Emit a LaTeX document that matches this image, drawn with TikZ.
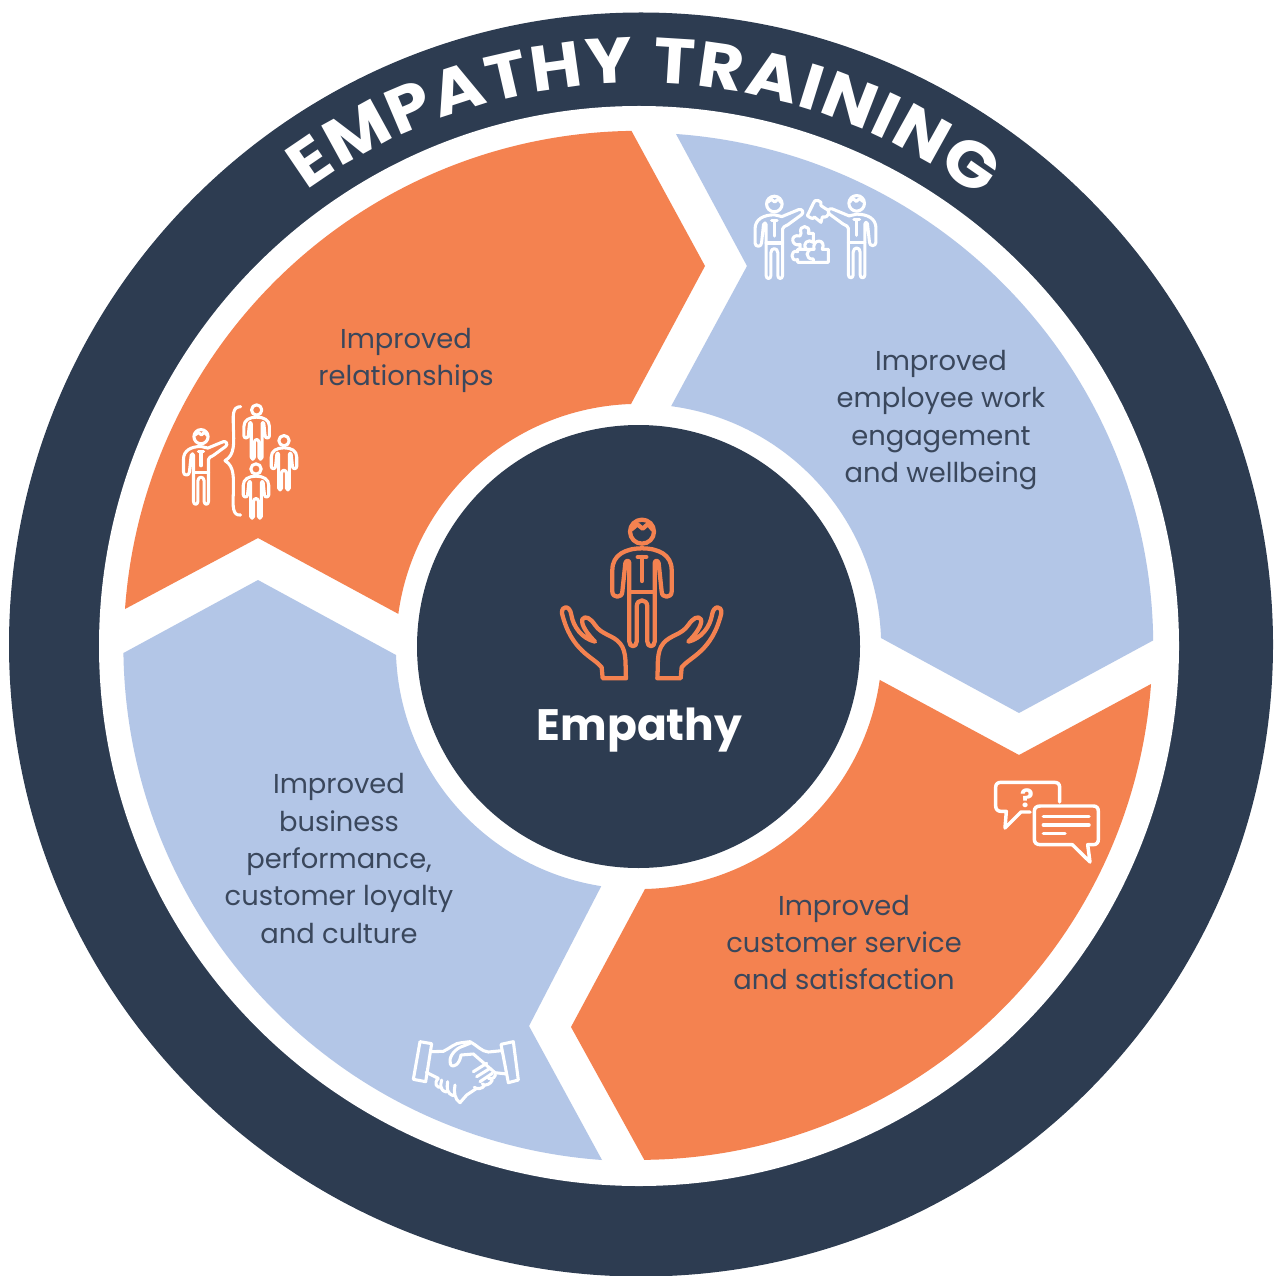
\documentclass[tikz,border=0pt]{standalone}
\usepackage{fontspec}
\usetikzlibrary{decorations.text}
\setmainfont{Poppins}
\newfontfamily\titlefont[FakeStretch=1.1]{Poppins}
\definecolor{navy}{HTML}{2D3C51}
\definecolor{accent}{HTML}{F48250}
\definecolor{pale}{HTML}{B3C6E7}
\definecolor{bodytext}{HTML}{3A475C}
\tikzset{
  segorange/.style={fill=accent,draw=none},
  segblue/.style={fill=pale,draw=none},
  label/.style={text=bodytext,align=center,font=\fontsize{20.5}{28.1}\selectfont},
  iconline/.style={color=white,line width=2.3pt,line join=round,line cap=round},
  pics/figbody/.style={code={
    \draw (0,0) circle[radius=36];
    \draw (-30,-8) -- (-14,-22) -- (2,-9) -- (18,-23) -- (32,-6);
    \draw (0,50) .. controls (50,50) and (89,70) .. (89,115) -- (89,180)
      .. controls (89,200) and (59,200) .. (59,180) -- (50,95)
      .. controls (48,85) and (38,85) .. (38,95) -- (38,330)
      .. controls (38,348) and (16,348) .. (16,330) -- (16,225)
      .. controls (16,200) and (-16,200) .. (-16,225) -- (-16,330)
      .. controls (-16,348) and (-38,348) .. (-38,330) -- (-38,95)
      .. controls (-38,85) and (-48,85) .. (-50,95) -- (-59,180)
      .. controls (-59,200) and (-89,200) .. (-89,180) -- (-89,115)
      .. controls (-89,70) and (-50,50) .. (0,50) -- cycle;
    \draw (-38,180) -- (38,180);
    \draw (-13,76) -- (13,76) (0,76) -- (0,148);
  }},
  pics/figplain/.style={code={
    \draw (0,0) circle[radius=36];
    \draw (0,50) .. controls (50,50) and (89,70) .. (89,115) -- (89,180)
      .. controls (89,200) and (59,200) .. (59,180) -- (50,95)
      .. controls (48,85) and (38,85) .. (38,95) -- (38,330)
      .. controls (38,348) and (16,348) .. (16,330) -- (16,225)
      .. controls (16,200) and (-16,200) .. (-16,225) -- (-16,330)
      .. controls (-16,348) and (-38,348) .. (-38,330) -- (-38,95)
      .. controls (-38,85) and (-48,85) .. (-50,95) -- (-59,180)
      .. controls (-59,200) and (-89,200) .. (-89,180) -- (-89,115)
      .. controls (-89,70) and (-50,50) .. (0,50) -- cycle;
  }},
  pics/figraised/.style={code={
    \draw (0,0) circle[radius=36];
    \draw (-30,-8) -- (-14,-22) -- (2,-9) -- (18,-23) -- (32,-6);
    \draw (0,50) -- (35,58) -- (112,26)
      .. controls (130,20) and (138,40) .. (125,50) -- (62,96)
      .. controls (50,104) and (38,104) .. (38,116) -- (38,330)
      .. controls (38,348) and (16,348) .. (16,330) -- (16,225)
      .. controls (16,200) and (-16,200) .. (-16,225) -- (-16,330)
      .. controls (-16,348) and (-38,348) .. (-38,330) -- (-38,95)
      .. controls (-38,85) and (-48,85) .. (-50,95) -- (-59,180)
      .. controls (-59,200) and (-89,200) .. (-89,180) -- (-89,115)
      .. controls (-89,70) and (-50,50) .. (0,50) -- cycle;
    \draw (-38,180) -- (38,180);
    \draw (-13,76) -- (13,76) (0,76) -- (0,148);
  }},
  pics/openhand/.style={code={
    \draw (158,505) -- (155,472) .. controls (130,440) and (64,425) .. (36,310)
      .. controls (34,285) and (60,285) .. (64,315)
      .. controls (70,350) and (95,385) .. (135,395)
      .. controls (115,375) and (92,345) .. (97,328)
      .. controls (105,315) and (122,325) .. (135,345)
      .. controls (155,375) and (190,375) .. (210,400)
      .. controls (232,425) and (225,470) .. (228,505) -- cycle;
  }}
}
\begin{document}
\begin{tikzpicture}[x=0.75pt,y=-0.75pt]
\useasboundingbox (0,0) rectangle (1273,1276);
\coordinate (c) at (639,646);
\fill[navy] (641,644.5) circle[radius=632];
\fill[white] (c) circle[radius=540];

% segments
\path[segorange] (125,609) arc[start angle=-175.9,end angle=-90.8,radius=515]
  -- (705,266) -- (631,404) arc[start angle=-91.9,end angle=-172.2,radius=243]
  -- (258,538) -- cycle;
\path[segblue] (676,134) arc[start angle=-85.9,end angle=-0.7,radius=514]
  -- (1019,713) -- (881,638) arc[start angle=-1.9,end angle=-82.4,radius=242]
  -- (747,266) -- cycle;
\path[segorange] (1151,684) arc[start angle=4.2,end angle=89.4,radius=513.5]
  -- (571,1027) -- (645,889) arc[start angle=88.6,end angle=8,radius=243]
  -- (1019,755) -- cycle;
\path[segblue] (602,1160) arc[start angle=94.1,end angle=179.2,radius=515.5]
  -- (258,580) -- (396,655) arc[start angle=177.9,end angle=98.9,radius=243]
  -- (529,1026) -- cycle;

% centre
\fill[navy] (638.5,646.5) circle[radius=221.5];
\node[text=white,font=\fontsize{33}{38}\selectfont\bfseries] (centre) at (639.5,730) {Empathy};

% title on the ring
\path[decorate,decoration={text along path,text align={fit to path},
   text={|\titlefont\fontsize{48}{52}\selectfont\bfseries\color{white}|EMPATHY TRAINING}}]
   (306.5,191) arc[start angle=-126.1,end angle=-52.6,radius=563];

% labels
\node[label] (l1) at (406,360.5) {Improved\\relationships};
\node[label] (l2) at (941,420) {Improved\\employee work\\engagement\\and wellbeing};
\node[label] (l3) at (339,858.5) {Improved\\business\\performance,\\customer loyalty\\and culture};
\node[label] (l4) at (844,942.5) {Improved\\customer service\\and satisfaction};

% central icon
\begin{scope}[shift={(550,510)},scale=1/3,color=accent,line width=3.2pt,line join=round,line cap=round]
  \pic[transform shape] at (276,65) {figbody};
  \pic[transform shape] {openhand};
  \begin{scope}[shift={(550,0)},xscale=-1]\pic[transform shape] {openhand};\end{scope}
\end{scope}

% icon: people
\begin{scope}[shift={(170,390)},scale=1/3,iconline]
  \pic[transform shape,scale=.59] at (93,140) {figraised};
  \pic[transform shape,scale=.43] at (260,60) {figplain};
  \pic[transform shape,scale=.43] at (342,152) {figplain};
  \pic[transform shape,scale=.43] at (258,237) {figplain};
  \draw (212,50) .. controls (185,50) and (190,80) .. (190,110)
    .. controls (192,160) and (195,195) .. (165,212)
    .. controls (195,230) and (190,265) .. (190,310)
    .. controls (188,350) and (188,378) .. (212,375);
\end{scope}

% icon: puzzle
\begin{scope}[shift={(745,185)},scale=1/3,iconline]
  \pic[transform shape,scale=.65] at (88,57) {figraised};
  \pic[transform shape,xscale=-.65,yscale=.65] at (335,55) {figraised};
  \draw (168,145) .. controls (158,118) and (200,118) .. (190,145) -- (205,145) -- (205,172)
    .. controls (190,160) and (170,175) .. (184,193) -- (165,193) -- (165,178)
    .. controls (140,188) and (132,145) .. (165,153) -- cycle;
  \draw (184,193) -- (207,193) .. controls (200,160) and (245,160) .. (232,193) -- (250,193)
    -- (250,232) -- (158,232) -- (158,224)
    .. controls (135,232) and (135,192) .. (158,200) -- (158,193) -- cycle;
  \draw (205,193) .. controls (180,190) and (180,225) .. (205,222) -- (205,232);
  \draw (187,92) -- (205,55) .. controls (205,40) and (235,45) .. (228,62) -- (240,70)
    .. controls (258,72) and (255,100) .. (232,96) -- (228,112) -- (208,96)
    .. controls (205,105) and (195,98) .. (187,92) -- cycle;
\end{scope}

% icon: speech bubbles
\begin{scope}[shift={(985,770)},scale=1/3,iconline,line width=2.6pt]
  \draw (224,96) -- (224,52) .. controls (224,42) and (218,37) .. (208,37)
    -- (48,37) .. controls (38,37) and (32,42) .. (32,52) -- (32,108)
    .. controls (32,118) and (38,124) .. (48,124) -- (64,124) -- (60,174) -- (108,126) -- (135,126);
  \draw (166,108) -- (325,108) .. controls (335,108) and (340,114) .. (340,124)
    -- (340,208) .. controls (340,218) and (335,224) .. (325,224) -- (308,224)
    -- (315,276) -- (262,224) -- (166,224)
    .. controls (154,224) and (148,218) .. (148,208) -- (148,124)
    .. controls (148,114) and (154,108) .. (166,108) -- cycle;
  \draw (175,140) -- (312,140) (175,165) -- (312,165) (175,190) -- (240,190);
\end{scope}
\node[text=white,font=\fontsize{19}{22}\selectfont\bfseries,inner sep=0pt] (qm) at (1027,798) {?};

% icon: handshake
\begin{scope}[shift={(405,1030)},scale=1/3,iconline]
  \draw (45,35) -- (80,41) -- (62,155) -- (25,148) -- cycle;
  \draw (288,43) -- (325,35) -- (340,150) -- (310,158) -- cycle;
  \draw (78,65) -- (115,64) .. controls (135,55) and (150,38) .. (170,38)
    -- (195,35) .. controls (215,45) and (230,65) .. (250,66) -- (290,62);
  \draw (195,40) -- (165,52) .. controls (145,62) and (130,85) .. (136,102)
    .. controls (145,118) and (165,100) .. (168,75) -- (205,72) -- (270,128)
    .. controls (275,140) and (262,150) .. (250,145)
    (262,150) .. controls (258,162) and (240,170) .. (232,162)
    (240,165) .. controls (232,178) and (215,178) .. (208,172)
    (305,132) -- (270,128);
  \draw (64,127) -- (100,145) (100,145) .. controls (85,160) and (95,175) .. (110,172)
    (110,150) .. controls (105,168) and (105,182) .. (125,186)
    (128,155) .. controls (125,175) and (125,190) .. (145,197)
    (150,165) .. controls (145,185) and (150,210) .. (165,218) -- (185,195) -- (215,175);
  \draw (205,125) -- (245,100) (215,140) -- (255,115) (225,155) -- (262,130);
\end{scope}
\end{tikzpicture}
\end{document}
